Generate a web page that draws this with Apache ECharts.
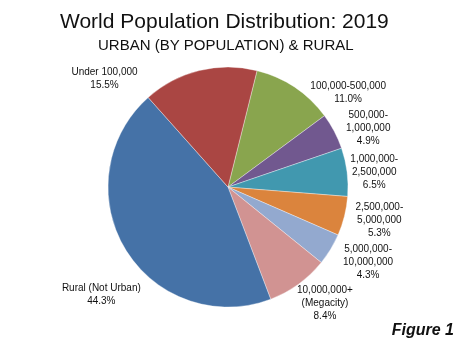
<!DOCTYPE html>
<html>
<head>
<meta charset="utf-8">
<script src="https://cdn.jsdelivr.net/npm/echarts@6/dist/echarts.min.js"></script>
<style>
html,body{margin:0;padding:0;background:#fff;}
#chart{width:474px;height:351px;}
</style>
</head>
<body>
<div id="chart"></div>
<script>
// ---- data ----
const categories = [
  '100,000-500,000',
  '500,000-\n1,000,000',
  '1,000,000-\n2,500,000',
  '2,500,000-\n5,000,000',
  '5,000,000-\n10,000,000',
  '10,000,000+\n(Megacity)',
  'Rural (Not Urban)',
  'Under 100,000'
];
const shares = [11.0, 4.9, 6.5, 5.3, 4.3, 8.4, 44.3, 15.5];
const titleText = 'World Population Distribution: 2019';
const subtitleText = 'URBAN (BY POPULATION) & RURAL';
const figureText = 'Figure 1';

// ---- style ----
const colors = ['#89A54E', '#71588F', '#4198AF', '#DB843D', '#93A9CF', '#D19392', '#4572A7', '#AA4643'];
const centerPct = [0.481, 0.533];
const radiusPx = 120;
const startAngle = 76;
// label placement: angular shift from slice middle (deg, clockwise) and distance from centre
const labelShift = [18, 5, 1.5, -1.5, -3, -4, -9, -35];
const labelDist = [153, 152, 147, 155, 159, 151, 166, 164];

const chart = echarts.init(document.getElementById('chart'), null, {renderer: 'canvas'});

const total = shares.reduce((a, b) => a + b, 0);
const midAngles = [];
let acc = 0;
shares.forEach(v => {
  const a0 = (90 - startAngle) + acc / total * 360;
  acc += v;
  const a1 = (90 - startAngle) + acc / total * 360;
  midAngles.push((a0 + a1) / 2);
});

const labelFont = '"Liberation Sans", Arial, sans-serif';

chart.setOption({
  animation: false,
  backgroundColor: '#fff',
  color: colors,
  graphic: [
    {type: 'text', left: 224 - 164, top: 12, style: {text: titleText, font: '21px "Liberation Sans", Arial, sans-serif', fill: '#111'}},
    {type: 'text', left: 224 - 126, top: 38, style: {text: subtitleText, font: '15px "Liberation Sans", Arial, sans-serif', fill: '#111'}},
    {type: 'text', right: 20, top: 323, style: {text: figureText, font: 'italic bold 16px "Liberation Sans", Arial, sans-serif', fill: '#111'}}
  ],
  series: [{
    type: 'pie',
    center: [(centerPct[0] * 100) + '%', (centerPct[1] * 100) + '%'],
    radius: radiusPx,
    startAngle: startAngle,
    clockwise: true,
    itemStyle: {borderColor: 'rgba(255,255,255,0.6)', borderWidth: 0.6},
    label: {
      show: true,
      position: 'outside',
      formatter: p => p.name + '\n' + p.value.toFixed(1) + '%',
      fontFamily: labelFont,
      fontSize: 10,
      lineHeight: 13,
      color: '#111',
      overflow: 'none',
      width: 200
    },
    labelLine: {show: false},
    emphasis: {disabled: true},
    labelLayout: function (params) {
      const i = params.dataIndex;
      const cx = chart.getWidth() * centerPct[0];
      const cy = chart.getHeight() * centerPct[1];
      const ang = (midAngles[i] + labelShift[i]) * Math.PI / 180;
      return {
        x: cx + labelDist[i] * Math.sin(ang),
        y: cy - labelDist[i] * Math.cos(ang),
        align: 'center',
        verticalAlign: 'middle'
      };
    },
    data: categories.map((c, i) => ({name: c, value: shares[i]}))
  }]
});
</script>
</body>
</html>
